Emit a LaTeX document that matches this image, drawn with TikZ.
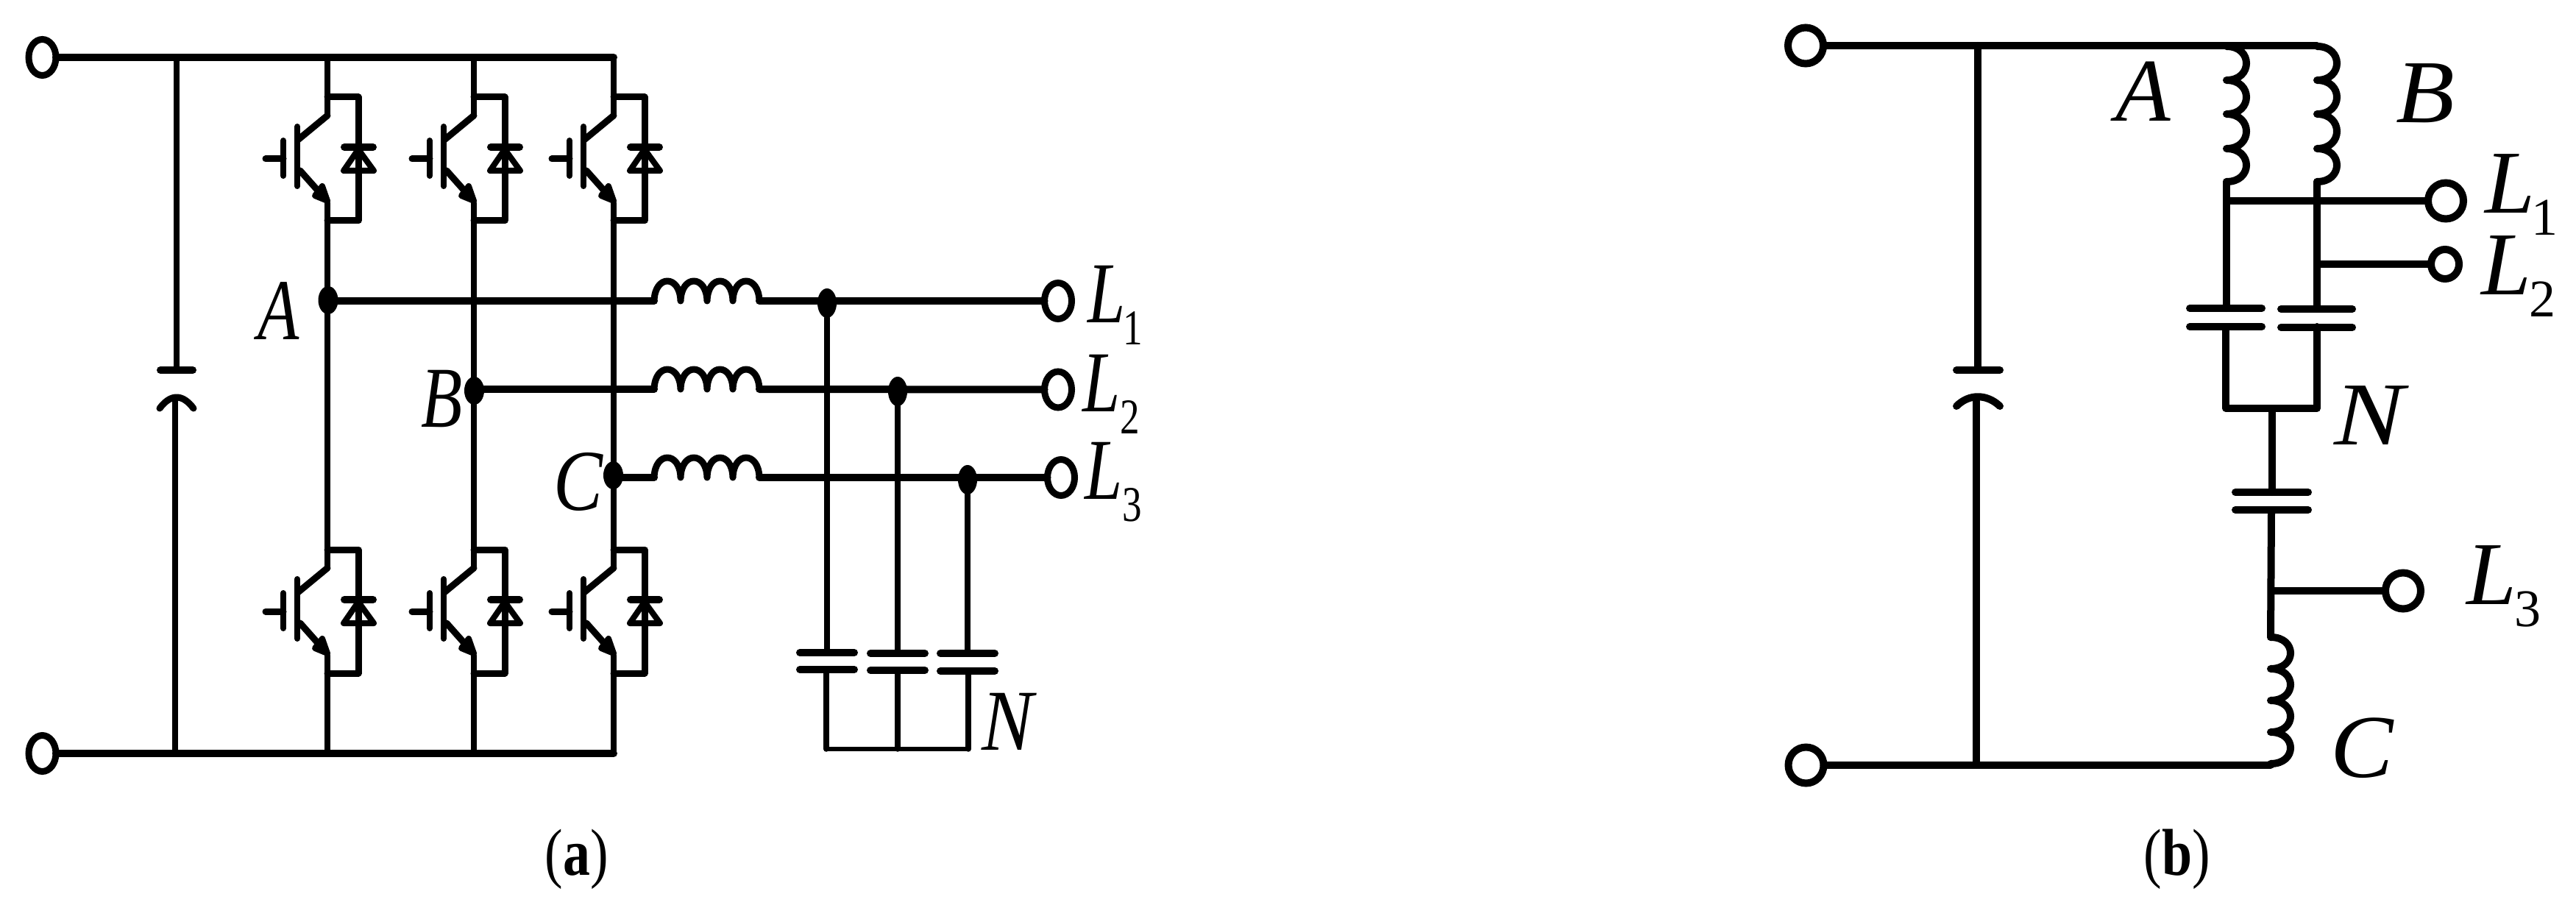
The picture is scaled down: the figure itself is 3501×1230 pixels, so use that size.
\documentclass[tikz,border=0pt]{standalone}
\usepackage{fontspec}
\setmainfont{Liberation Serif}
\usetikzlibrary{shapes.geometric}
\newcommand{\lsub}[3]{L\kern#1pt\raisebox{-15pt}{\upshape\fontsize{#2}{#2}\selectfont #3}}
\tikzset{
  base/.style={line cap=round,line join=round,draw=black},
  w10/.style={base,line width=5pt},
  w9/.style={base,line width=4.5pt},
  w8/.style={base,line width=4pt},
  w6/.style={base,line width=3pt},
  termbig/.style={ellipse,draw=black,fill=white,line width=4.5pt,inner sep=0pt,outer sep=0pt,minimum width=18.5pt,minimum height=24.5pt},
  termround/.style={ellipse,draw=black,fill=white,line width=5pt,inner sep=0pt,outer sep=0pt,minimum width=24pt,minimum height=24.5pt},
  termsmall/.style={ellipse,draw=black,fill=white,line width=5pt,inner sep=0pt,outer sep=0pt,minimum width=19pt,minimum height=20pt},
  dotnode/.style={ellipse,fill=black,inner sep=0pt,outer sep=0pt,minimum width=13.5pt,minimum height=19pt},
  txt/.style={inner sep=0pt,outer sep=0pt,anchor=base west,font=\fontsize{61}{61}\selectfont\itshape},
  txtsq/.style={inner sep=0pt,outer sep=0pt,anchor=base west,font=\fontsize{59}{59}\selectfont\itshape,xscale=.78,transform shape},
  captxt/.style={inner sep=0pt,outer sep=0pt,anchor=base,font=\fontsize{45}{45}\selectfont,xscale=.82,transform shape},
}
\begin{document}
\begin{tikzpicture}[x=.5pt,y=-.5pt]
\path[use as bounding box,fill=white] (0,0) rectangle (3501,1230);

% ===== panel (a) =====
\node[termbig] (ta) at (57.5,78) {};
\node[termbig] (tb) at (57.5,1024) {};
\coordinate (rtC) at (834,78);
\coordinate (rbC) at (834,1024);
\draw[w10] (ta) -- (ta.center -| rtC);
\draw[w10] (tb) -- (tb.center -| rbC);
% dc link capacitor
\coordinate (cTop) at (240,78);
\coordinate (cP) at (240,503);
\coordinate (cQ) at (238,541);
\coordinate (cBot) at (238,1024);
\draw[w8] (cTop) -- (cP);
\draw[w10] (218,503) -- (262,503);
\draw[w8] (cQ) -- (cBot);
\draw[w9] (217,555) .. controls (232,535) and (248,535) .. (263,555);

% switches
\foreach \dx in {0,199,389}{
  \foreach \dy in {0,615}{
    \begin{scope}[shift={(\dx,\dy)}]
      \draw[w8] (404,172) -- (404,253);
      \draw[w8] (385,191) -- (385,239);
      \draw[w9] (361,216) -- (385,216);
      \draw[w9] (405,190) -- (445,157);
      \draw[w9] (408,232) -- (440,268);
      \fill[base,line width=4pt,fill=black] (445,273) -- (438,253) -- (428,266) -- cycle;
      \draw[w9] (445,132) -- (487,132) -- (487,300) -- (445,300);
      \draw[w10] (468,200) -- (507,200);
      \draw[w8] (487,203) -- (508,232) -- (467,232) -- cycle;
    \end{scope}
  }
  \begin{scope}[shift={(\dx,0)}]
    \draw[w8] (445,78) -- (445,157);
    \draw[w8] (445,276) -- (445,772);
    \draw[w8] (445,891) -- (445,1024);
  \end{scope}
}

% phase nodes and outputs
\node[dotnode] (dA) at (446,408) {};
\node[dotnode] (dB) at (644.5,531) {};
\node[dotnode] (dC) at (833.5,646) {};
\node[termbig] (tL1) at (1438,409) {};
\node[termbig] (tL2) at (1438,529.5) {};
\node[termbig] (tL3) at (1442,649) {};
\node[dotnode,minimum width=13pt,minimum height=20pt] (d1) at (1124,412) {};
\node[dotnode,minimum width=13pt,minimum height=20pt] (d2) at (1220,532) {};
\node[dotnode,minimum width=13pt,minimum height=20pt] (d3) at (1315,652) {};
\foreach \n/\y/\t/\s in {A/409/tL1/dA,B/529/tL2/dB,C/649/tL3/dC}{
  \coordinate (in\n) at (889,\y);
  \coordinate (out\n) at (1032,\y);
  \draw[w10] (\s.center |- in\n) -- (in\n);
  \draw[w10] (out\n) -- (\t);
  \draw[w9] (889,\y) .. controls (890,\y-36) and (924,\y-36) .. (925,\y)
     .. controls (926,\y-36) and (960,\y-36) .. (961,\y)
     .. controls (962,\y-36) and (995,\y-36) .. (996,\y)
     .. controls (997,\y-36) and (1031,\y-36) .. (1032,\y);
}
% filter capacitors
\foreach \s/\x/\xx/\u/\v in {d1/1124/1123/887/910,d2/1220/1220/888/911,d3/1315/1316/888/912}{
  \coordinate (p\s) at (\x,\u);
  \coordinate (q\s) at (\xx,\v);
  \coordinate (n\s) at (\xx,1018);
  \draw[base,line width=3.75pt] (\s) -- (p\s);
  \draw[w10] (\x-37,\u) -- (\x+37,\u);
  \draw[w10] (\x-37,\v) -- (\x+37,\v);
  \draw[base,line width=3.75pt] (q\s) -- (n\s);
}
\draw[w6] (nd1) -- (nd3);

% labels (a)
\node[txtsq] (lA) at (350,461) {A};
\node[txtsq] (lB) at (572,580) {B};
\node[txtsq,xscale=1.09] (lC) at (752,693) {C};
\node[txtsq,xscale=1.14] (lN) at (1334,1019) {N};
\node[txtsq] (lL1) at (1478,438) {\lsub{-1.5}{34}{1}};
\node[txtsq] (lL2) at (1471,559) {\lsub{0}{34}{2}};
\node[txtsq] (lL3) at (1474,678) {\lsub{0}{34}{3}};
\node[captxt] (capa) at (784,1189) {(\textbf{a})};

% ===== panel (b) =====
\node[termround] (tc) at (2454,62) {};
\node[termround] (td) at (2454.5,1040) {};
\coordinate (cA) at (3026,63);
\coordinate (cB) at (3149,63);
\coordinate (cC) at (3086,1039);
\draw[w10] (tc) -- (tc.center -| cB);
\draw[w10] (td) -- (td.center -| cC);
% capacitor
\coordinate (eTop) at (2688,62);
\coordinate (eP) at (2688,503);
\coordinate (eQ) at (2686,542);
\coordinate (eBot) at (2686,1040);
\draw[w10] (eTop) -- (eP);
\draw[w10] (2659,503) -- (2718,503);
\draw[w10] (eQ) -- (eBot);
\draw[w10] (2659,552) .. controls (2676,535) and (2700,535) .. (2718,552);
% coils A, B
\foreach \x in {3026,3149}{
  \draw[w10] (\x,63) .. controls (\x+36,63) and (\x+36,109) .. (\x,109)
    .. controls (\x+36,109) and (\x+36,155) .. (\x,155)
    .. controls (\x+36,155) and (\x+36,202) .. (\x,202)
    .. controls (\x+36,202) and (\x+36,247) .. (\x,247);
}
% coil C
\draw[w10] (3086,866) .. controls (3122,866) and (3122,909) .. (3086,909)
    .. controls (3122,909) and (3122,952) .. (3086,952)
    .. controls (3122,952) and (3122,995) .. (3086,995)
    .. controls (3122,995) and (3122,1038) .. (3086,1038);
% outputs
\node[termround] (tbL1) at (3324,273) {};
\node[termsmall] (tbL2) at (3323,359) {};
\node[termround] (tbL3) at (3266,803) {};
\coordinate (jA) at (3026,273);
\coordinate (jB) at (3149,359);
\coordinate (jC) at (3087,803);
\coordinate (aEnd) at (3026,247);
\coordinate (bEnd) at (3149,247);
\coordinate (aPl) at (3026,419);
\coordinate (bPl) at (3149,420);
\coordinate (aQ) at (3025,444);
\coordinate (bQ) at (3149,444);
\coordinate (aN) at (3025,555);
\coordinate (bN) at (3149,555);
\coordinate (mN) at (3088,555);
\coordinate (mP) at (3088,669);
\coordinate (mQ) at (3087,693);
\coordinate (cStart) at (3086,866);
\draw[w10] (aEnd) -- (aPl);
\draw[w10] (bEnd) -- (bPl);
\draw[w10] (jA) -- (tbL1);
\draw[w10] (jB) -- (tbL2);
\draw[w10] (jC) -- (tbL3);
\draw[w10] (2976,419) -- (3074,419);
\draw[w10] (3100,420) -- (3197,420);
\draw[w10] (2976,444) -- (3074,444);
\draw[w10] (3100,445) -- (3197,445);
\draw[w10] (aQ) -- (aN) -- (bN) -- (bQ);
\draw[w10] (mN) -- (mP);
\draw[w10] (3038,669) -- (3137,669);
\draw[w10] (3038,693) -- (3137,693);
\draw[w10] (mQ) -- (cStart);

% labels (b)
\node[txt] (bA) at (2875,165) {A};
\node[txt,xscale=1.07,transform shape] (bB) at (3256,167) {B};
\node[txt,xscale=1.17,transform shape] (bN1) at (3172,604) {N};
\node[txt,xscale=1.05,transform shape] (bC) at (3167,1056) {C};
\node[txt] (bL1) at (3377,290) {\lsub{-2}{36}{1}};
\node[txt] (bL2) at (3372,400) {\lsub{-1}{36}{2}};
\node[txt] (bL3) at (3352,821) {\lsub{-1}{36}{3}};
\node[captxt] (capb) at (2959,1189) {(\textbf{b})};
\end{tikzpicture}
\end{document}
